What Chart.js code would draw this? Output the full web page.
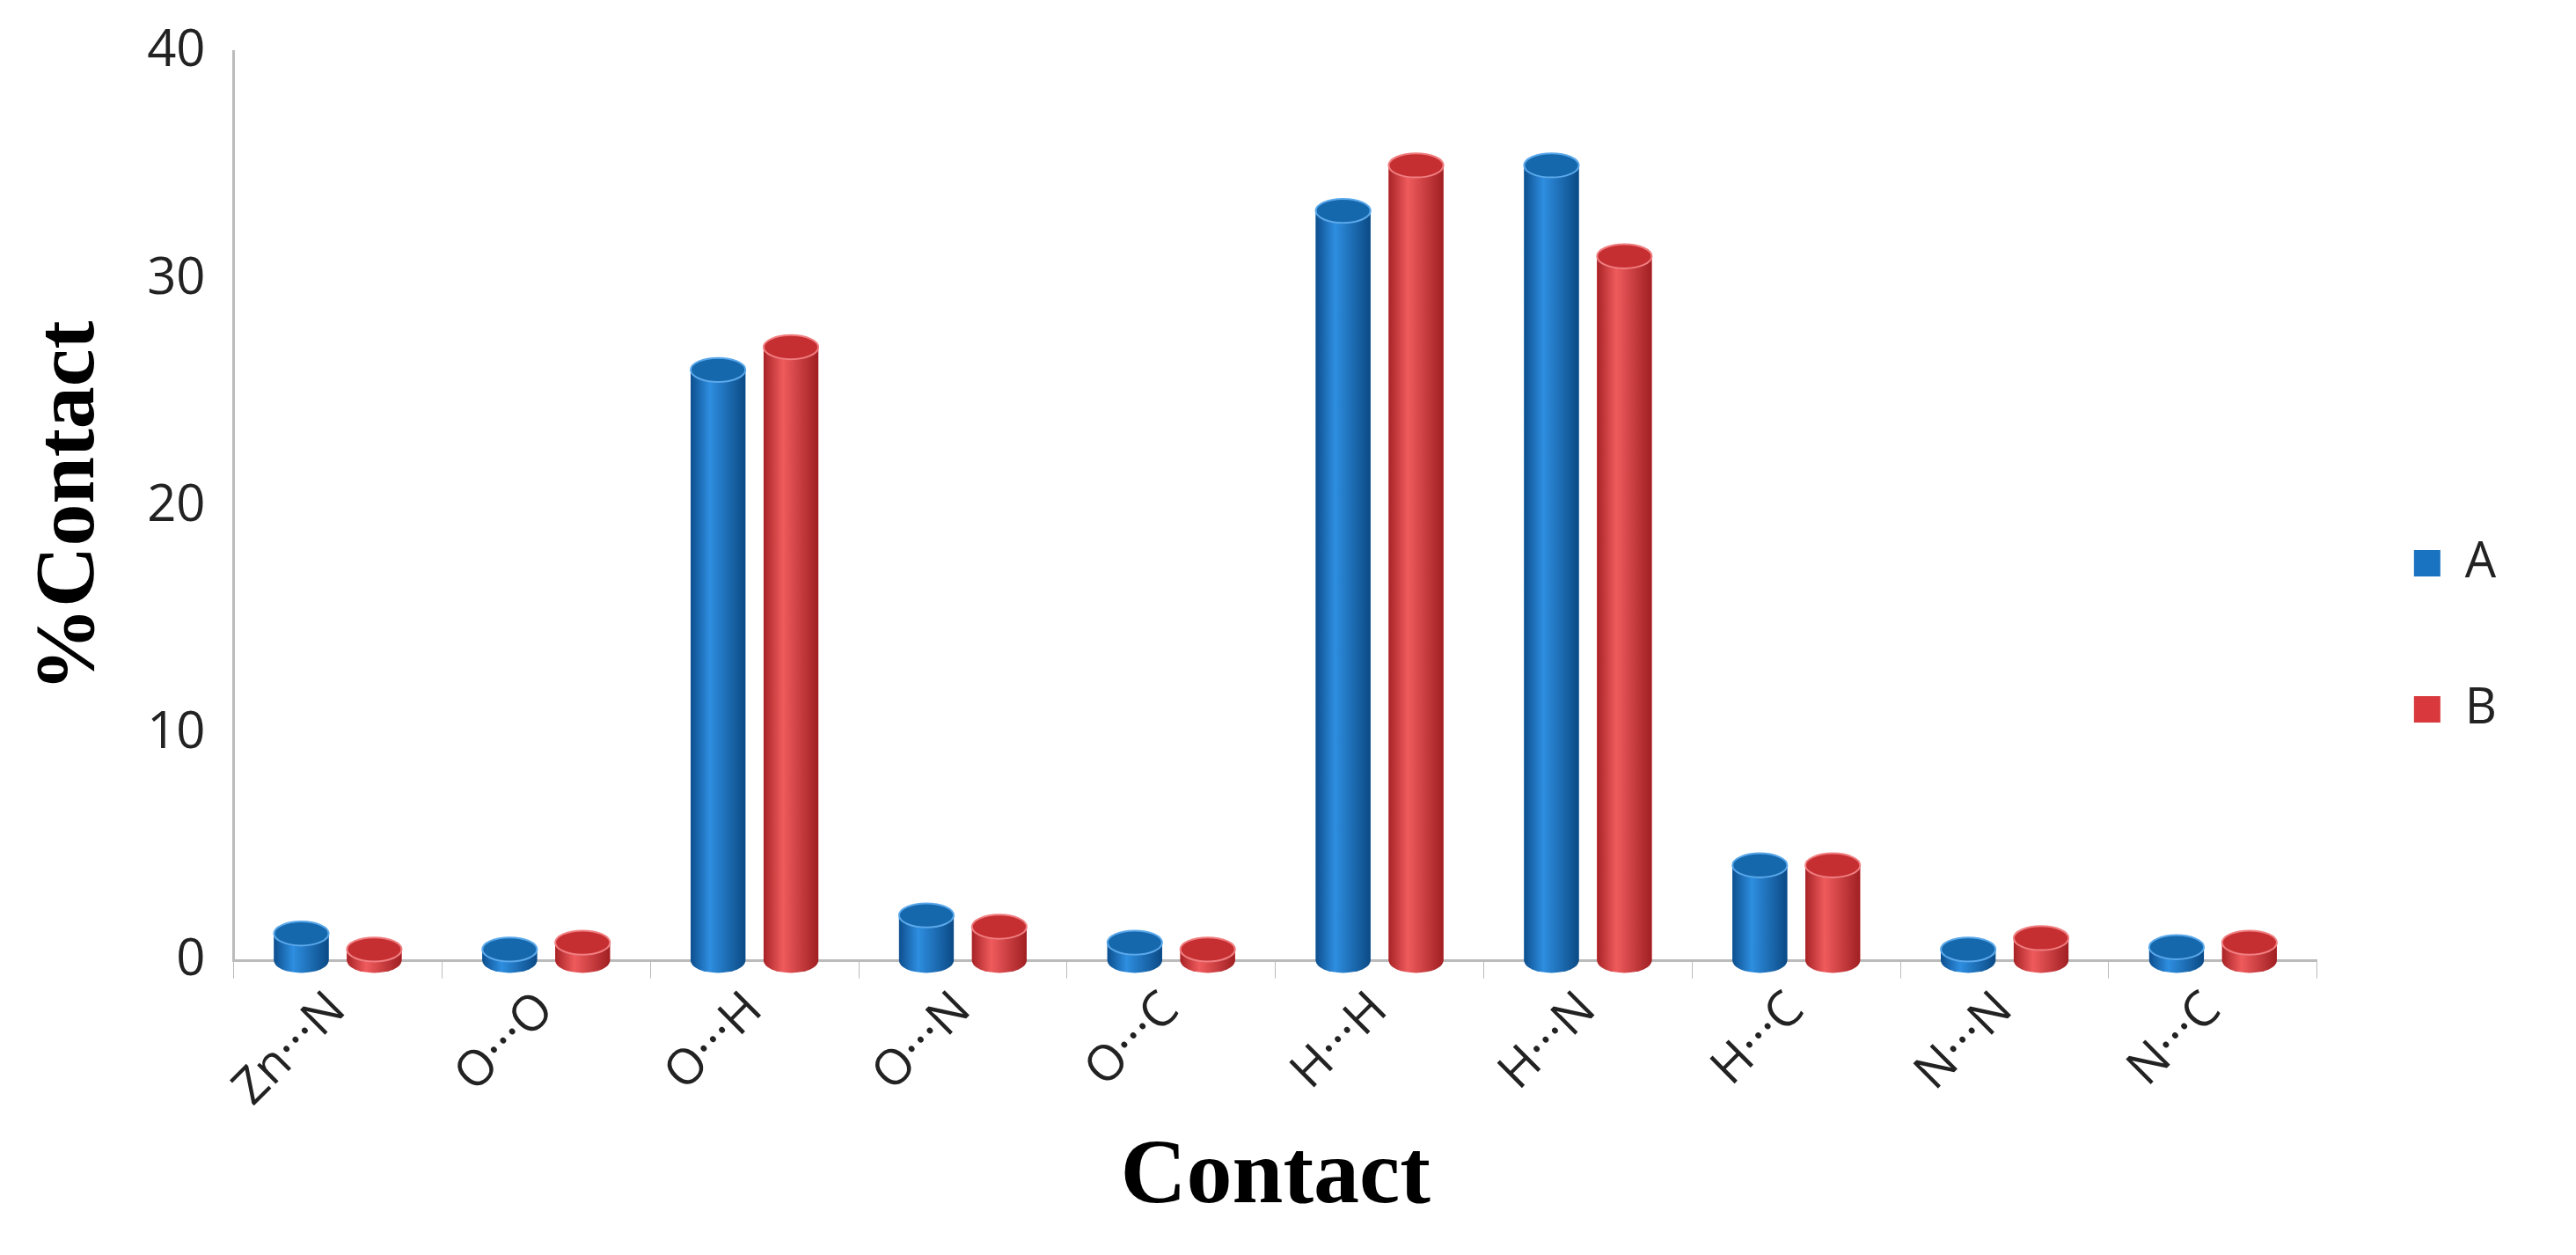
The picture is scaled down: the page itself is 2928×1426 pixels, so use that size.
<!DOCTYPE html>
<html>
<head>
<meta charset="utf-8">
<script src="https://cdn.jsdelivr.net/npm/chart.js@4"></script>
<style>
  html, body { margin: 0; padding: 0; background: #fff; }
  #wrap { width: 2928px; height: 1426px; }
</style>
</head>
<body>
<div id="wrap"><canvas id="myChart" width="2928" height="1426"></canvas></div>
<script>
// data
const contacts = ["Zn\u00B7\u00B7\u00B7N", "O\u00B7\u00B7\u00B7O", "O\u00B7\u00B7\u00B7H", "O\u00B7\u00B7\u00B7N", "O\u00B7\u00B7\u00B7C",
                  "H\u00B7\u00B7\u00B7H", "H\u00B7\u00B7\u00B7N", "H\u00B7\u00B7\u00B7C", "N\u00B7\u00B7\u00B7N", "N\u00B7\u00B7\u00B7C"];
const seriesA = [1.2, 0.5, 26, 2, 0.8, 33, 35, 4.2, 0.5, 0.6];
const seriesB = [0.5, 0.8, 27, 1.5, 0.5, 35, 31, 4.2, 1, 0.8];
const yTicks = [0, 10, 20, 30, 40];

const blue = "#1a73c0", red = "#d9393c";

function cylGradient(ctx, x, w, base) {
  const g = ctx.createLinearGradient(x - w / 2, 0, x + w / 2, 0);
  if (base === "blue") {
    g.addColorStop(0, "#0d4f8e"); g.addColorStop(0.35, "#2e8ee0"); g.addColorStop(1, "#0b4a85");
  } else {
    g.addColorStop(0, "#a82326"); g.addColorStop(0.35, "#ef5b5d"); g.addColorStop(1, "#a01f22");
  }
  return g;
}

/* plugin: turns the bars into cylinders with elliptic caps */
const cylinders = {
  id: "cylinders",
  afterDatasetsDraw(chart) {
    const ctx = chart.ctx;
    chart.data.datasets.forEach((ds, i) => {
      const meta = chart.getDatasetMeta(i);
      meta.data.forEach(bar => {
        const w = bar.width, rx = w / 2, ry = w * 0.22;
        const top = bar.y, bottom = bar.base;
        ctx.save();
        ctx.fillStyle = cylGradient(ctx, bar.x, w, ds.tone);
        ctx.beginPath();
        ctx.moveTo(bar.x - rx, top);
        ctx.lineTo(bar.x - rx, bottom);
        ctx.ellipse(bar.x, bottom, rx, ry, 0, Math.PI, 0, true);
        ctx.lineTo(bar.x + rx, top);
        ctx.closePath();
        ctx.fill();
        ctx.beginPath();
        ctx.ellipse(bar.x, top, rx, ry, 0, 0, Math.PI * 2);
        ctx.fillStyle = ds.tone === "blue" ? "#1668ad" : "#c62f32";
        ctx.fill();
        ctx.strokeStyle = ds.tone === "blue" ? "#5aa8ea" : "#f07e80";
        ctx.lineWidth = 2;
        ctx.stroke();
        ctx.restore();
      });
    });
  }
};

const config = {
  type: "bar",
  data: {
    labels: contacts,
    datasets: [
      { label: "A", data: seriesA, backgroundColor: blue, tone: "blue" },
      { label: "B", data: seriesB, backgroundColor: red, tone: "red" }
    ]
  },
  options: {
    responsive: false,
    animation: false,
    layout: { padding: { left: 20, right: 80, top: 40, bottom: 20 } },
    datasets: { bar: { barPercentage: 0.75, categoryPercentage: 0.7 } },
    plugins: {
      legend: {
        position: "right",
        labels: { font: { size: 56, family: "Open Sans" }, color: "#222", boxWidth: 30, boxHeight: 30, padding: 110 }
      },
      tooltip: { enabled: false }
    },
    scales: {
      x: {
        grid: { display: true, color: "#bbb", drawOnChartArea: false, tickLength: 20 },
        border: { color: "#bbb", width: 3 },
        ticks: { maxRotation: 45, minRotation: 45, font: { size: 56, family: "Open Sans" }, color: "#222" },
        title: { display: true, text: "Contact", font: { size: 104, family: "Liberation Serif", weight: "bold" }, color: "#000" }
      },
      y: {
        min: 0, max: 40,
        afterBuildTicks: axis => { axis.ticks = yTicks.map(v => ({ value: v })); },
        grid: { display: false },
        border: { color: "#bbb", width: 3 },
        ticks: { font: { size: 58, family: "Open Sans" }, color: "#222", padding: 24 },
        title: { display: true, text: "%Contact", font: { size: 96, family: "Liberation Serif", weight: "bold" }, color: "#000" }
      }
    }
  },
  plugins: [cylinders]
};

const context = document.getElementById("myChart").getContext("2d");
const chart = new Chart(context, config);
</script>
</body>
</html>
